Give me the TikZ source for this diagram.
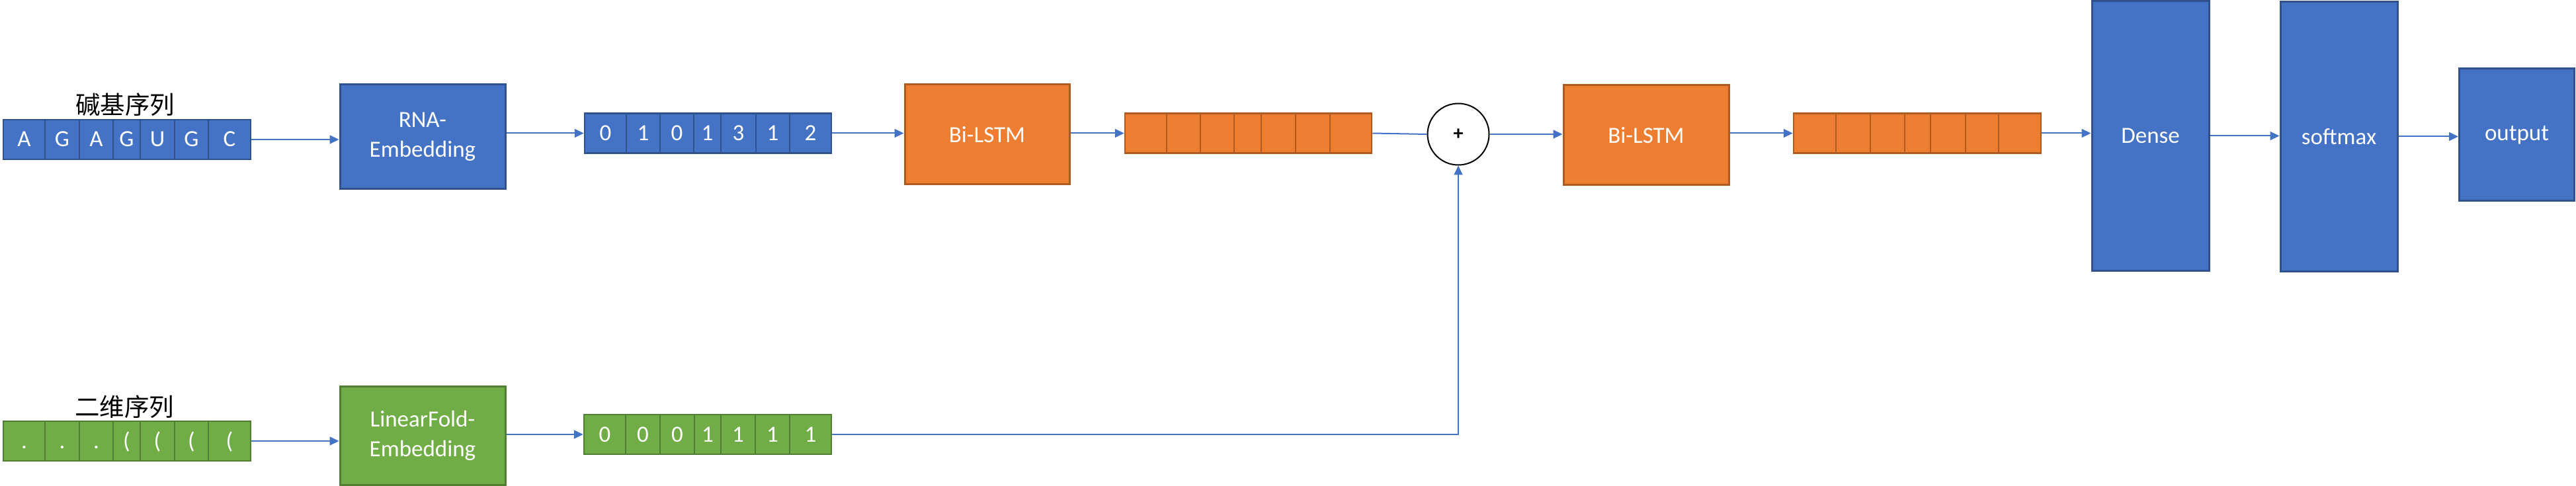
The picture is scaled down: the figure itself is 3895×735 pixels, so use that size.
\documentclass[tikz,border=0pt]{standalone}
\usepackage{fontspec}
\setmainfont{Carlito}
\newfontfamily\cjk{Noto Sans CJK SC}
\usetikzlibrary{arrows.meta,calc}
\definecolor{bfill}{HTML}{4472C4}
\definecolor{bline}{HTML}{2F528F}
\definecolor{ofill}{HTML}{ED7D31}
\definecolor{oline}{HTML}{AE5A21}
\definecolor{gfill}{HTML}{70AD47}
\definecolor{gline}{HTML}{507E32}
\tikzset{
  box/.style={rectangle, draw, line width=3pt, inner sep=0pt, text=white, align=center, font=\fontsize{35}{45}\selectfont},
  bluebox/.style={box, fill=bfill, draw=bline},
  orangebox/.style={box, fill=ofill, draw=oline},
  greenbox/.style={box, fill=gfill, draw=gline},
  cellfmt/.style={minimum height=60pt, text height=22pt, text depth=0pt, line width=2.5pt},
  cellb/.style={bluebox, cellfmt},
  cello/.style={orangebox, cellfmt},
  cellg/.style={greenbox, cellfmt},
  seqlabel/.style={font=\cjk\fontsize{37.5}{40}\selectfont, text=black, inner sep=0pt},
  conn/.style={draw=bfill, line width=2pt},
  arr/.style={conn, -{Triangle[length=14pt,width=13pt]}},
}
\begin{document}
\begin{tikzpicture}[x=1pt,y=-1pt]
\useasboundingbox (0,0) rectangle (3895,735);

% ---------- top row ----------
\node[seqlabel] (lab1) at (189,158) {碱基序列};
\foreach \a/\b/\t [count=\i] in {5/68/A,68/120/G,120/171/A,171/212/G,212/264/U,264/315/G,315/379/C}{
  \pgfmathsetmacro\w{\b-\a}
  \node[cellb, minimum width=\w pt] (s\i) at ({(\a+\b)/2},211) {\t};
}
\node[bluebox, minimum width=250pt, minimum height=158pt] (emb1) at (639,207) {RNA-\\Embedding};
\foreach \a/\b/\t [count=\i] in {884/947/0,947/998/1,998/1049/0,1049/1090/1,1090/1143/3,1143/1194/1,1194/1257/2}{
  \pgfmathsetmacro\w{\b-\a}
  \node[cellb, minimum width=\w pt] (n\i) at ({(\a+\b)/2},201.5) {\t};
}
\node[orangebox, minimum width=249pt, minimum height=151pt] (lstm1) at (1492.5,203.5) {Bi-LSTM};
\foreach \a/\b [count=\i] in {1701/1764,1764/1815,1815/1866,1866/1907,1907/1959,1959/2011,2011/2074}{
  \pgfmathsetmacro\w{\b-\a}
  \node[cello, minimum width=\w pt] (o\i) at ({(\a+\b)/2},201.5) {};
}
\node[circle, draw=black, line width=2pt, minimum size=93pt, inner sep=0pt, font=\fontsize{30}{30}\selectfont\bfseries] (plus) at (2205,203) {+};
\node[orangebox, minimum width=250pt, minimum height=151pt] (lstm2) at (2489,204.5) {Bi-LSTM};
\foreach \a/\b [count=\i] in {2712/2776,2776/2828,2828/2880,2880/2919,2919/2972,2972/3022,3022/3086}{
  \pgfmathsetmacro\w{\b-\a}
  \node[cello, minimum width=\w pt] (p\i) at ({(\a+\b)/2},201.5) {};
}
\node[bluebox, minimum width=177pt, minimum height=407pt] (dense) at (3251.5,205.5) {Dense};
\node[bluebox, minimum width=177pt, minimum height=407pt] (soft) at (3536.5,206.5) {softmax};
\node[bluebox, minimum width=174pt, minimum height=200pt] (outp) at (3805.5,204) {output};

% ---------- bottom row ----------
\node[seqlabel] (lab2) at (188,615) {二维序列};
\foreach \a/\b/\t [count=\i] in {5/68/.,68/120/.,120/171/.,171/212/(,212/264/(,264/315/(,315/379/(}{
  \pgfmathsetmacro\w{\b-\a}
  \node[cellg, minimum width=\w pt] (t\i) at ({(\a+\b)/2},667) {\t};
}
\node[greenbox, minimum width=250pt, minimum height=149pt] (emb2) at (639,658.5) {LinearFold-\\Embedding};
\foreach \a/\b/\t [count=\i] in {883/946/0,946/998/0,998/1050/0,1050/1090/1,1090/1142/1,1142/1194/1,1194/1257/1}{
  \pgfmathsetmacro\w{\b-\a}
  \node[cellg, minimum width=\w pt] (m\i) at ({(\a+\b)/2},657) {\t};
}

% ---------- connectors ----------
\draw[arr] (s7.east) -- (s7.east -| emb1.west);
\draw[arr] (emb1.east |- n1.west) -- (n1.west);
\draw[arr] (n7.east) -- (n7.east -| lstm1.west);
\draw[arr] (lstm1.east |- o1.west) -- (o1.west);
\draw[conn] (o7.east) -- (plus.west);
\draw[arr] (plus.east) -- (plus.east -| lstm2.west);
\draw[arr] (lstm2.east |- p1.west) -- (p1.west);
\draw[arr] (p7.east) -- (p7.east -| dense.west);
\draw[arr] (dense.east) -- (dense.east -| soft.west);
\draw[arr] (soft.east) -- (soft.east -| outp.west);
\draw[arr] (t7.east) -- (t7.east -| emb2.west);
\draw[arr] (emb2.east |- m1.west) -- (m1.west);
\draw[arr] (m7.east) -| (plus.south);
\end{tikzpicture}
\end{document}
